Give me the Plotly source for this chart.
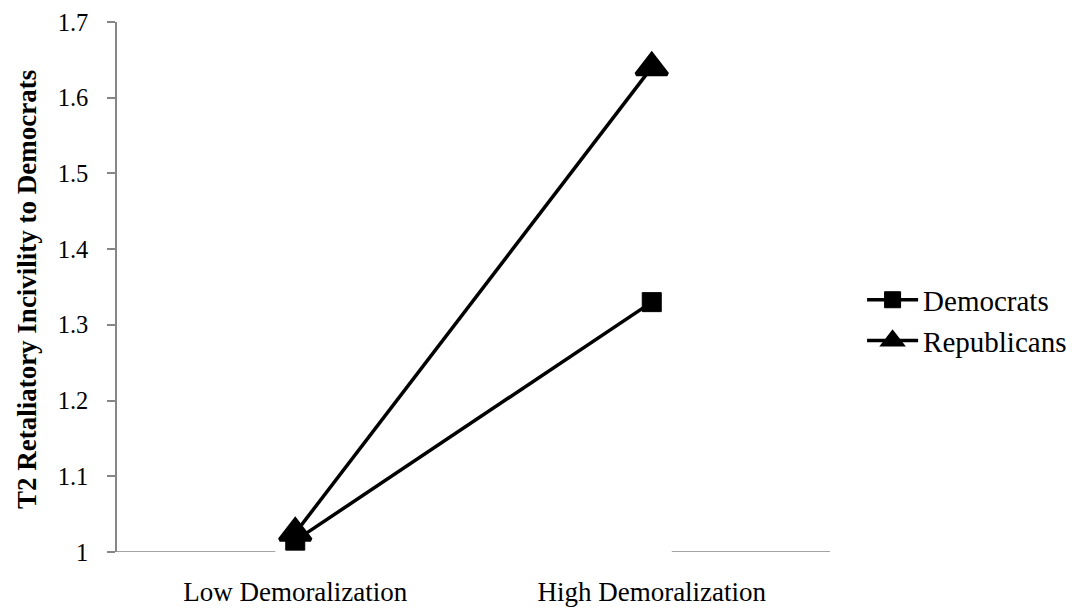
import plotly.graph_objects as go

categories = ["Low Demoralization", "High Demoralization"]
democrats = [1.015, 1.33]
republicans = [1.025, 1.64]
y_ticks = [1.0, 1.1, 1.2, 1.3, 1.4, 1.5, 1.6, 1.7]
y_tick_labels = ["1", "1.1", "1.2", "1.3", "1.4", "1.5", "1.6", "1.7"]
series_names = ["Democrats", "Republicans"]
y_title = "T2 Retaliatory Incivility to Democrats"

FONT = "Liberation Serif, Times New Roman, serif"
AXIS_GREY = "#868686"

fig = go.Figure()
fig.add_trace(go.Scatter(
    x=categories, y=democrats, name=series_names[0], mode="lines+markers",
    line=dict(color="black", width=3.5),
    marker=dict(symbol="square", size=19, color="black", line=dict(color="black", width=1)),
    cliponaxis=False,
))
fig.add_trace(go.Scatter(
    x=categories, y=republicans, name=series_names[1], mode="lines+markers",
    line=dict(color="black", width=3.5),
    marker=dict(symbol="triangle-up", size=27, color="black", line=dict(color="black", width=4)),
    cliponaxis=False,
))

shapes = [
    dict(type="line", xref="x", yref="y", x0=-0.5, x1=-0.056, y0=1.0, y1=1.0,
         line=dict(color=AXIS_GREY, width=1.5), layer="below"),
    dict(type="line", xref="x", yref="y", x0=1.056, x1=1.5, y0=1.0, y1=1.0,
         line=dict(color=AXIS_GREY, width=1.5), layer="below"),
    dict(type="line", xref="x", yref="y", ysizemode="pixel", yanchor=1.0,
         x0=-0.5, x1=-0.5, y0=0, y1=-8, line=dict(color=AXIS_GREY, width=1.5)),
    dict(type="line", xref="x", yref="y", ysizemode="pixel", yanchor=1.0,
         x0=1.5, x1=1.5, y0=0, y1=-8, line=dict(color=AXIS_GREY, width=1.5)),
]

fig.update_layout(
    width=1078, height=611, autosize=False,
    margin=dict(l=109, r=256, t=14, b=67, autoexpand=False),
    plot_bgcolor="white", paper_bgcolor="white",
    font=dict(family=FONT, size=25, color="black"),
    showlegend=True,
    legend=dict(x=1.045, y=0.437, xanchor="left", yanchor="middle",
                font=dict(family=FONT, size=29, color="black"),
                itemwidth=51, bgcolor="rgba(0,0,0,0)"),
    shapes=shapes,
    annotations=[dict(text="<b>" + y_title + "</b>", xref="paper", yref="paper",
                      x=-0.127, y=0.495, xanchor="center", yanchor="middle",
                      textangle=-90, showarrow=False,
                      font=dict(family=FONT, size=27, color="black"))],
)
fig.update_xaxes(type="category", categoryorder="array", categoryarray=categories,
                 range=[-0.5, 1.5], showline=False, showgrid=False, zeroline=False,
                 ticks="", ticklabelstandoff=21, automargin=False,
                 tickfont=dict(family=FONT, size=27, color="black"))
fig.update_yaxes(range=[1.0, 1.7], tickvals=y_ticks, ticktext=y_tick_labels,
                 showline=True, linecolor=AXIS_GREY, linewidth=1.5,
                 ticks="outside", ticklen=8, tickcolor=AXIS_GREY, tickwidth=1.5,
                 showgrid=False, zeroline=False, ticklabelstandoff=14, automargin=False,
                 tickfont=dict(family=FONT, size=24.5, color="black"))

fig.write_html("out.html")
